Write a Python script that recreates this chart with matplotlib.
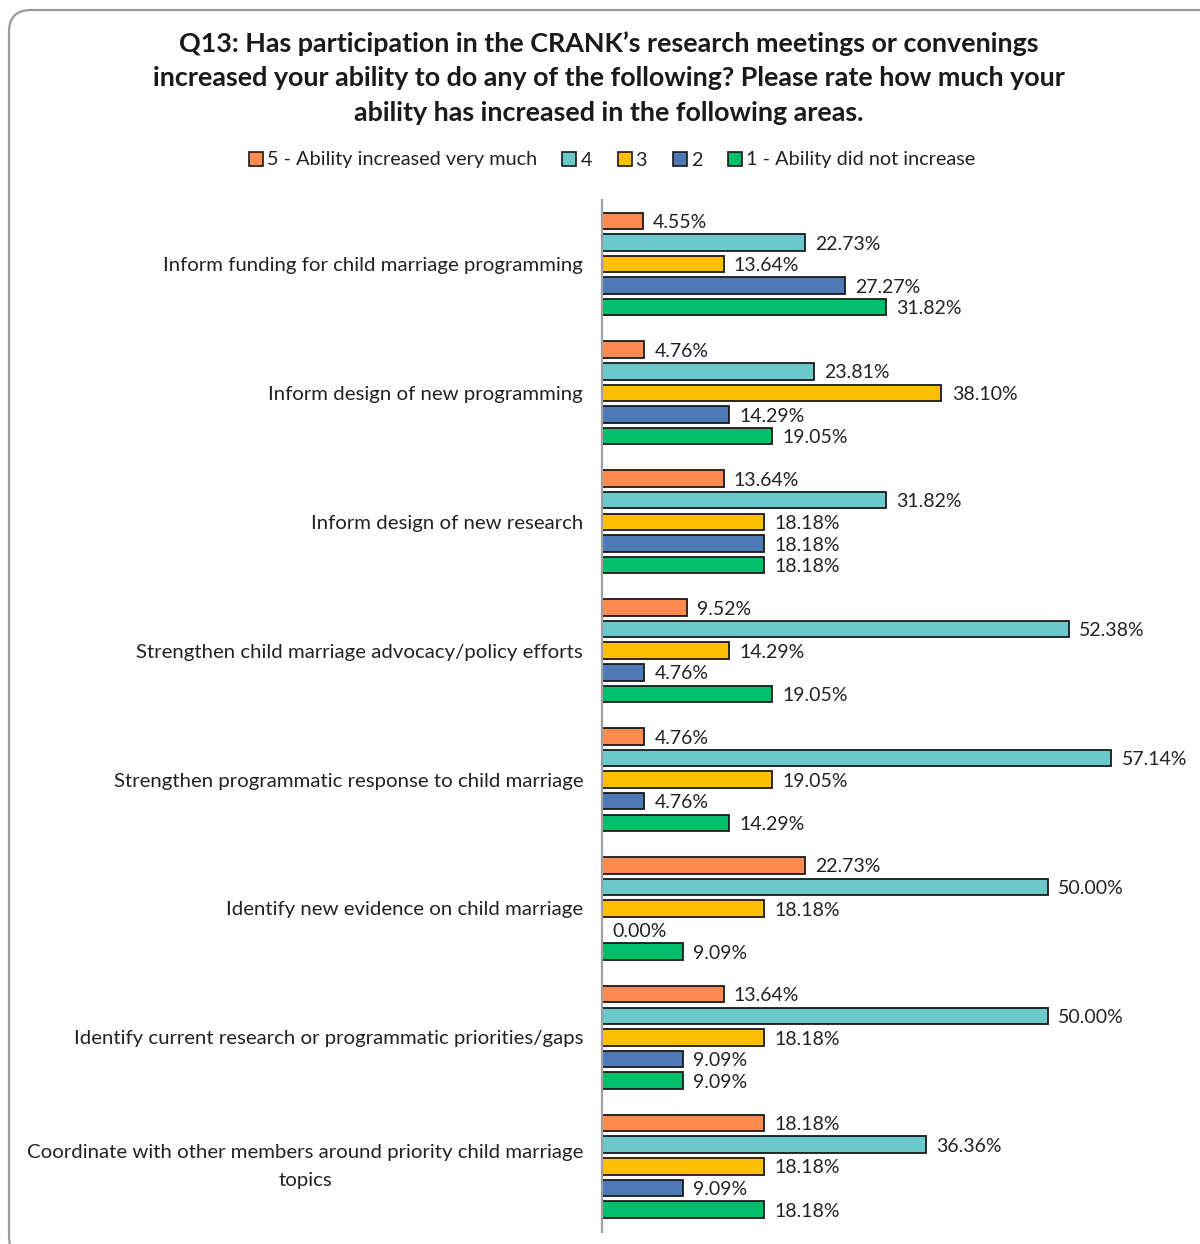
import matplotlib
matplotlib.use("Agg")
import matplotlib.pyplot as plt
import numpy as np
from matplotlib.patches import FancyBboxPatch, Patch
from matplotlib.transforms import IdentityTransform, ScaledTranslation

plt.rcParams['font.family'] = ['Lato', 'DejaVu Sans']

categories = [
    "Inform funding for child marriage programming",
    "Inform design of new programming",
    "Inform design of new research",
    "Strengthen child marriage advocacy/policy efforts",
    "Strengthen programmatic response to child marriage",
    "Identify new evidence on child marriage",
    "Identify current research or programmatic priorities/gaps",
    "Coordinate with other members around priority child marriage\ntopics",
]
series_names = ["5 - Ability increased very much", "4", "3", "2", "1 - Ability did not increase"]
rating_5 = [4.55, 4.76, 13.64, 9.52, 4.76, 22.73, 13.64, 18.18]
rating_4 = [22.73, 23.81, 31.82, 52.38, 57.14, 50.00, 50.00, 36.36]
rating_3 = [13.64, 38.10, 18.18, 14.29, 19.05, 18.18, 18.18, 18.18]
rating_2 = [27.27, 14.29, 18.18, 4.76, 4.76, 0.00, 9.09, 9.09]
rating_1 = [31.82, 19.05, 18.18, 19.05, 14.29, 9.09, 9.09, 18.18]
series = [rating_5, rating_4, rating_3, rating_2, rating_1]
colors = ["#FF8B53", "#6BC8CB", "#FDC000", "#4E79B7", "#00BF6A"]

W, H = 1200, 1244
fig = plt.figure(figsize=(W / 100, H / 100), dpi=100)

# rounded chart-area border (runs off the right and bottom edges)
border = FancyBboxPatch((9, -14), 1230, 1248, boxstyle="round,pad=0,rounding_size=22",
                        transform=IdentityTransform(), facecolor="none",
                        edgecolor="#9a9a9a", linewidth=1.6)
fig.patches.append(border)

ax_left, ax_right = 602 / W, (602 + 60 * 8.91) / W
ax_top, ax_bottom = 1 - 200 / H, 1 - 1232 / H
ax = fig.add_axes([ax_left, ax_bottom, ax_right - ax_left, ax_top - ax_bottom])

group_pitch = 128.9
step = 21.6 / group_pitch
bar_h = 16.5 / group_pitch
idx = np.arange(len(categories))
for k, (vals, col, name) in enumerate(zip(series, colors, series_names)):
    y = idx + (k - 2) * step
    ax.barh(y, vals, height=bar_h, color=col, edgecolor="#1a1a1a", linewidth=1.3,
            label=name)
    for yy, v in zip(y, vals):
        ax.annotate(f"{v:.2f}%", (v, yy), xytext=(7.5, -1.2), textcoords="offset points",
                    ha="left", va="center", fontsize=14, color="#222222")

ax.set_xlim(0, 60)
ax.set_ylim((1232 - 264) / group_pitch, (200 - 264) / group_pitch)
ax.set_yticks(idx)
ax.set_yticklabels(categories, fontsize=14.7, color="#222222", multialignment="center",
                   linespacing=1.8)
ax.tick_params(axis="y", length=0, pad=13.5)
ax.set_xticks([])
for s in ["top", "right", "bottom"]:
    ax.spines[s].set_visible(False)
ax.spines["left"].set_color("#a0a0a0")
ax.spines["left"].set_linewidth(1.6)
ax.patch.set_alpha(0)

# nudge the two-line label up so its block is centred on the group
two_line = ax.get_yticklabels()[-1]
two_line.set_transform(two_line.get_transform()
                       + ScaledTranslation(0, 7 / 100, fig.dpi_scale_trans))

fig.text(609 / W, 1 - 78 / H,
         "Q13: Has participation in the CRANK’s research meetings or convenings\n"
         "increased your ability to do any of the following? Please rate how much your\n"
         "ability has increased in the following areas.",
         ha="center", va="center", fontsize=19.4, fontweight="bold", linespacing=1.53,
         color="#1a1a1a")

handles = [Patch(facecolor=c, edgecolor="#1a1a1a", linewidth=1.2) for c in colors]
fig.legend(handles, series_names, loc="center", bbox_to_anchor=(612 / W, 1 - 160 / H),
           ncol=5, frameon=False, fontsize=14.3, handlelength=0.7, handleheight=0.7,
           handletextpad=0.2, columnspacing=1.3, labelcolor="#222222")

fig.savefig("out.png", dpi=100)
